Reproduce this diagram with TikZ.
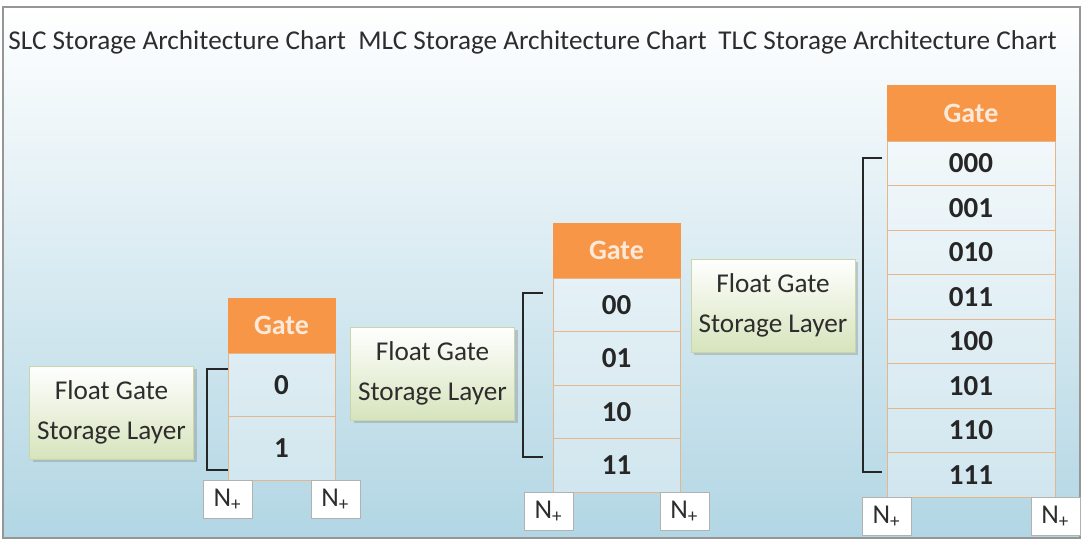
\documentclass[tikz,border=0pt]{standalone}
\usepackage{fontspec}
\setmainfont{Carlito}
\usetikzlibrary{shapes,arrows,positioning,shadows}
\definecolor{gateorange}{RGB}{247,150,70}
\definecolor{gatetext}{RGB}{253,233,217}
\definecolor{cellline}{RGB}{228,182,138}
\definecolor{bgblue}{RGB}{178,214,228}
\definecolor{layergreen}{RGB}{214,228,188}
\definecolor{layerline}{RGB}{200,214,170}
\definecolor{frameline}{RGB}{150,150,150}
\definecolor{textgray}{RGB}{45,45,45}
\tikzstyle{title} = [anchor=west, inner sep=0pt, font=\fontsize{13.6}{16}\selectfont, text=textgray]
\tikzstyle{gate} = [rectangle, draw=gateorange, fill=gateorange, text=gatetext, font=\fontsize{14}{16}\selectfont\bfseries, minimum height=27.5pt, inner sep=0pt]
\tikzstyle{cell} = [rectangle, draw=cellline, fill=white, fill opacity=0.35, text opacity=1, text=black!85, font=\fontsize{14.5}{16}\selectfont\bfseries, inner sep=0pt]
\tikzstyle{layer} = [rectangle, draw=layerline, top color=white, bottom color=layergreen, drop shadow={shadow xshift=1.5pt, shadow yshift=-1.5pt, opacity=0.35}, align=center, text=textgray, font=\fontsize{13.6}{20}\selectfont, minimum width=82pt, minimum height=46.5pt, inner sep=0pt]
\tikzstyle{nbox} = [rectangle, draw=gray!60, fill=white, anchor=north, minimum width=24.5pt, minimum height=19pt, inner sep=0pt, font=\fontsize{13.6}{16}\selectfont, text=textgray]
\tikzstyle{bracket} = [thick, black!85]

\begin{document}
\begin{tikzpicture}[x=0.5pt, y=-0.5pt]
    \useasboundingbox (0,0) rectangle (1086,541);
    % Background and frame
    \fill [white] (0,0) rectangle (1086,541);
    \shade [top color=white, bottom color=bgblue] (3,7) rectangle (1080,538);
    \draw [frameline, line width=1pt] (3,7) rectangle (1080,538);

    % Titles
    \node [title] (slctitle) at (8,42) {SLC Storage Architecture Chart};
    \node [title] (mlctitle) at (358,42) {MLC Storage Architecture Chart};
    \node [title] (tlctitle) at (718,42) {TLC Storage Architecture Chart};

    % SLC
    \node [gate, minimum width=53.5pt] (sgate) at (281.5,325.5) {Gate};
    \node [cell, minimum width=53.5pt, minimum height=31.75pt, below of=sgate, node distance=29.625pt] (s1) {0};
    \node [cell, minimum width=53.5pt, minimum height=31.75pt, below of=s1, node distance=31.75pt] (s2) {1};
    \node [layer] (slayer) at (111.5,412.5) {Float Gate\\Storage Layer};
    \node [nbox] (sn1) at (s2.south west) {N\textsubscript{+}};
    \node [nbox] (sn2) at (s2.south east) {N\textsubscript{+}};

    % MLC
    \node [gate, minimum width=63.5pt] (mgate) at (616.5,250.5) {Gate};
    \node [cell, minimum width=63.5pt, minimum height=26.75pt, below of=mgate, node distance=27.125pt] (m1) {00};
    \node [cell, minimum width=63.5pt, minimum height=26.75pt, below of=m1, node distance=26.75pt] (m2) {01};
    \node [cell, minimum width=63.5pt, minimum height=26.75pt, below of=m2, node distance=26.75pt] (m3) {10};
    \node [cell, minimum width=63.5pt, minimum height=26.75pt, below of=m3, node distance=26.75pt] (m4) {11};
    \node [layer] (mlayer) at (432.5,373.5) {Float Gate\\Storage Layer};
    \node [nbox, xshift=-2pt] (mn1) at (m4.south west) {N\textsubscript{+}};
    \node [nbox, xshift=2pt] (mn2) at (m4.south east) {N\textsubscript{+}};

    % TLC
    \node [gate, minimum width=84pt, minimum height=28pt] (tgate) at (971,113) {Gate};
    \node [cell, minimum width=84pt, minimum height=22.25pt, below of=tgate, node distance=25.125pt] (t1) {000};
    \node [cell, minimum width=84pt, minimum height=22.25pt, below of=t1, node distance=22.25pt] (t2) {001};
    \node [cell, minimum width=84pt, minimum height=22.25pt, below of=t2, node distance=22.25pt] (t3) {010};
    \node [cell, minimum width=84pt, minimum height=22.25pt, below of=t3, node distance=22.25pt] (t4) {011};
    \node [cell, minimum width=84pt, minimum height=22.25pt, below of=t4, node distance=22.25pt] (t5) {100};
    \node [cell, minimum width=84pt, minimum height=22.25pt, below of=t5, node distance=22.25pt] (t6) {101};
    \node [cell, minimum width=84pt, minimum height=22.25pt, below of=t6, node distance=22.25pt] (t7) {110};
    \node [cell, minimum width=84pt, minimum height=22.25pt, below of=t7, node distance=22.25pt] (t8) {111};
    \node [layer] (tlayer) at (773,305.5) {Float Gate\\Storage Layer};
    \node [nbox] (tn1) at (t8.south west) {N\textsubscript{+}};
    \node [nbox] (tn2) at (t8.south east) {N\textsubscript{+}};

    % Brackets
    \coordinate (sbtop) at (228,369);
    \coordinate (sbbot) at (228,470);
    \coordinate (mbtop) at (543,293);
    \coordinate (mbbot) at (543,457);
    \coordinate (tbtop) at (882,158);
    \coordinate (tbbot) at (882,472);
    \draw [bracket] (sbtop) -- (207,369) |- (sbbot);
    \draw [bracket] (mbtop) -- (523,293) |- (mbbot);
    \draw [bracket] (tbtop) -- (863,158) |- (tbbot);
\end{tikzpicture}
\end{document}
